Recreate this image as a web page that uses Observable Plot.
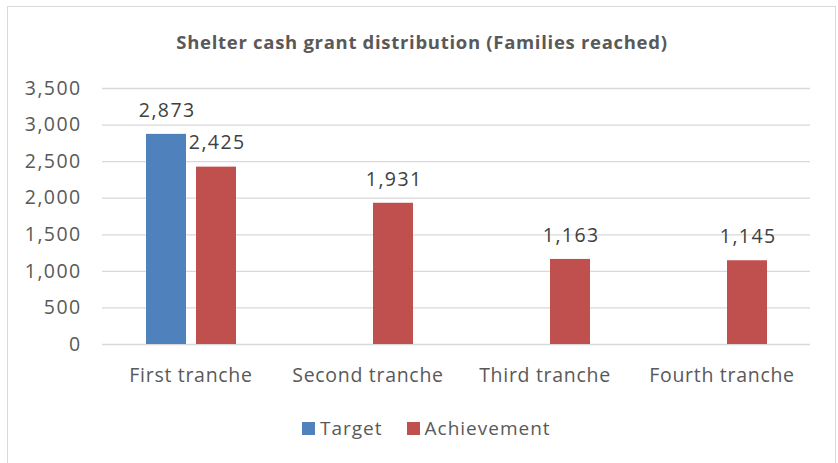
<!DOCTYPE html>
<html>
<head>
<meta charset="utf-8">
<script src="https://cdn.jsdelivr.net/npm/d3@7"></script>
<script src="https://cdn.jsdelivr.net/npm/@observablehq/plot@0.6"></script>
<style>
  html, body { margin: 0; padding: 0; background: #fff; }
  #wrap { position: relative; width: 838px; height: 463px; overflow: hidden; font-family: "Open Sans", sans-serif; color: #595959; }
  #frame { position: absolute; left: 7px; top: 6px; width: 829px; height: 480px; border: 1.5px solid #d9d9d9; box-sizing: border-box; }
  #title { position: absolute; left: 7px; width: 830px; top: 31px; text-align: center; font-weight: bold; font-size: 18.5px; letter-spacing: 0.7px; line-height: 22px; color: #595959; }
  #chart { position: absolute; left: 0; top: 60px; }
  #legend { position: absolute; left: 302px; top: 416px; display: flex; align-items: center; font-size: 19px; line-height: 24px; color: #595959; letter-spacing: 1px; }
  .sw { display: inline-block; width: 13px; height: 13px; margin-right: 5px; }
  .item { display: flex; align-items: center; margin-right: 24px; }
  #chart g[aria-label="y-axis tick label"] text { letter-spacing: 1.4px; }
  #chart g[aria-label="fx-axis tick label"] text { letter-spacing: 0.7px; }
  #chart g[aria-label="text"] text { letter-spacing: 1.4px; }
</style>
</head>
<body>
<div id="wrap">
  <div id="frame"></div>
  <div id="title">Shelter cash grant distribution (Families reached)</div>
  <div id="chart"></div>
  <div id="legend"></div>
</div>
<script>
const categories = ["First tranche", "Second tranche", "Third tranche", "Fourth tranche"];
const seriesNames = ["Target", "Achievement"];
const targetValues = [2873, null, null, null];
const achievementValues = [2425, 1931, 1163, 1145];
const yTicks = [0, 500, 1000, 1500, 2000, 2500, 3000, 3500];
const seriesColors = ["#4f81bd", "#c0504d"];

const rows = [];
categories.forEach((c, i) => {
  if (targetValues[i] != null) rows.push({category: c, series: "Target", value: targetValues[i]});
  if (achievementValues[i] != null) rows.push({category: c, series: "Achievement", value: achievementValues[i]});
});
const fmt = d3.format(",");

const chart = Plot.plot({
  width: 838,
  height: 330,
  marginTop: 28,
  marginBottom: 46,
  marginLeft: 102,
  marginRight: 28,
  style: {fontFamily: "'Open Sans', sans-serif", fontSize: "19.5px", color: "#595959", background: "transparent"},
  fx: {domain: categories, padding: 0, label: null},
  x: {domain: seriesNames, paddingInner: 0.2, paddingOuter: 0.87, axis: null},
  y: {domain: [0, 3500], label: null},
  color: {domain: seriesNames, range: seriesColors},
  marks: [
    Plot.gridY(yTicks, {stroke: "#d9d9d9", strokeOpacity: 1, strokeWidth: 1.3}),
    Plot.axisY(yTicks, {tickSize: 0, tickPadding: 21, tickFormat: fmt, label: null, fontSize: 19.5}),
    Plot.axisFx({anchor: "bottom", tickSize: 0, tickPadding: 24, label: null, fontSize: 19.5}),
    Plot.barY(rows, {fx: "category", x: "series", y: "value", fill: "series"}),
    Plot.text(rows, {fx: "category", x: "series", y: "value", text: d => fmt(d.value), dy: -24, dx: 0.7, fontSize: 19.5, fill: "#404040"})
  ]
});
document.getElementById("chart").appendChild(chart);

const legend = document.getElementById("legend");
seriesNames.forEach((s, i) => {
  const item = document.createElement("div");
  item.className = "item";
  const sw = document.createElement("span");
  sw.className = "sw";
  sw.style.background = seriesColors[i];
  const t = document.createElement("span");
  t.textContent = s;
  item.appendChild(sw);
  item.appendChild(t);
  legend.appendChild(item);
});
</script>
</body>
</html>
